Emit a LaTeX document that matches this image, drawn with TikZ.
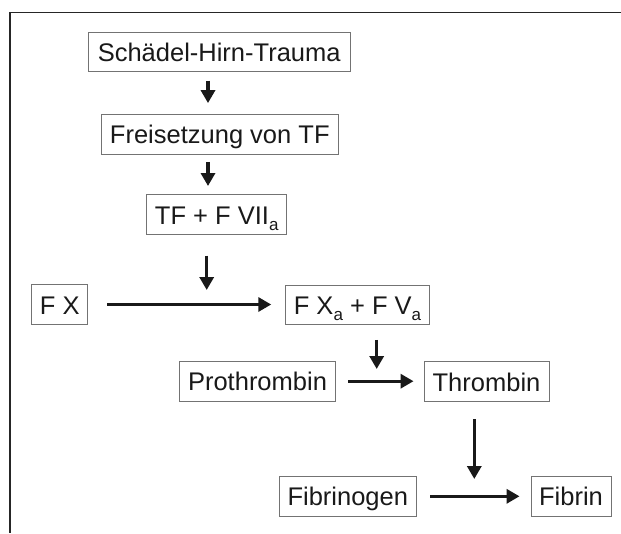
\documentclass[tikz,border=0pt]{standalone}
\usepackage{fontspec}
\setmainfont{Liberation Sans}
\usetikzlibrary{arrows.meta}
\tikzset{
  box/.style={draw=black!55, line width=0.9pt, inner xsep=0pt, inner ysep=0pt,
    minimum height=39.5pt, text height=25pt, text depth=6pt,
    font=\fontsize{25.5}{30}\selectfont, text=black!90, anchor=center},
  arr/.style={line width=3.4pt, draw=black!90, -{Triangle[length=13pt,width=14pt]}},
  frame/.style={line width=1.4pt, draw=black!85}
}
\newcommand{\sbs}[1]{\raisebox{-6.5pt}{\fontsize{17}{17}\selectfont #1}}
\begin{document}
\begin{tikzpicture}[x=1pt,y=-1pt]
\useasboundingbox (0,0) rectangle (621,533);
\coordinate (ftl) at (10,12.7);
\coordinate (ftr) at (621,12.7);
\coordinate (fbl) at (10,533);
\draw[frame] (ftr) -- (ftl) -- (fbl);

\node[box, minimum width=261.7pt] (sht) at (219.2,52) {Schädel-Hirn-Trauma};
\node[box, minimum width=236.3pt] (frei) at (219.8,134.3) {Freisetzung von TF};
\node[box, minimum width=140pt] (tf7) at (216.7,214.5) {TF + F VII\sbs{a}};
\node[box, minimum width=56pt] (fx) at (59.7,304.5) {F X};
\node[box, minimum width=143.6pt] (fxa) at (357.5,304.7) {F X\sbs{a} + F V\sbs{a}};
\node[box, minimum width=156.4pt] (pro) at (257.5,381.2) {Prothrombin};
\node[box, minimum width=125pt] (thr) at (486.5,381.5) {Thrombin};
\node[box, minimum width=137.7pt] (fbg) at (347.8,496.3) {Fibrinogen};
\node[box, minimum width=80pt] (fbn) at (571,496.3) {Fibrin};

% vertical arrows between boxes
\draw[arr, shorten <=8.3pt, shorten >=11pt] ([xshift=-11.2pt]sht.south) -- ([xshift=-11.8pt]frei.north);
\draw[arr, shorten <=7.4pt, shorten >=8.3pt] ([xshift=-11.8pt]frei.south) -- ([xshift=-8.7pt]tf7.north);

% TF+FVIIa arrow onto reaction arrow
\coordinate (h1) at (206.7,290);
\draw[arr, shorten <=21pt] (tf7.south -| h1) -- (h1);
\draw[arr, shorten <=19pt, shorten >=14pt] (fx.east) -- (fx.east -| fxa.west);

% FXa+FVa arrow onto reaction arrow
\coordinate (h2) at (376.7,369);
\draw[arr, shorten <=15pt] (fxa.south -| h2) -- (h2);
\draw[arr, shorten <=12pt, shorten >=10pt] (pro.east) -- (pro.east -| thr.west);

% Thrombin arrow onto reaction arrow
\coordinate (h3) at (474.3,479);
\draw[arr, shorten <=17.7pt] (thr.south -| h3) -- (h3);
\draw[arr, shorten <=13.3pt, shorten >=11pt] (fbg.east) -- (fbg.east -| fbn.west);
\end{tikzpicture}
\end{document}
